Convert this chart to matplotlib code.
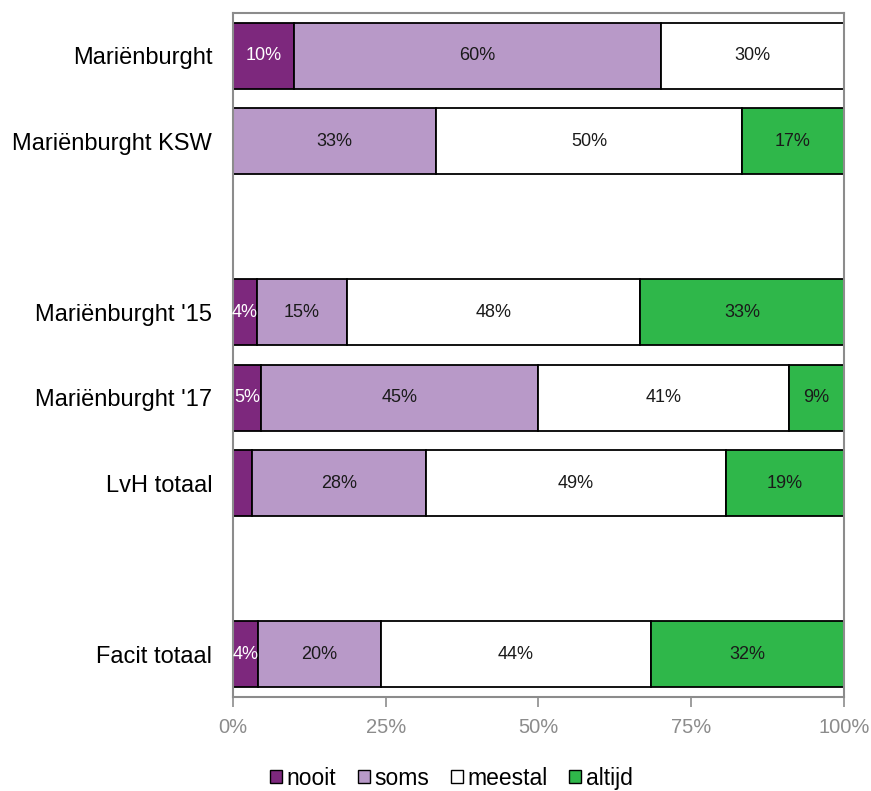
import matplotlib
matplotlib.use("Agg")
import matplotlib.pyplot as plt
from matplotlib.patches import Patch
from matplotlib.ticker import FuncFormatter

plt.rcParams["font.family"] = ["Liberation Sans", "DejaVu Sans"]

# rows from top to bottom; "" = empty spacer row
categories = ["Mariënburght", "Mariënburght KSW", "", "Mariënburght '15",
              "Mariënburght '17", "LvH totaal", "", "Facit totaal"]
series_names = ["nooit", "soms", "meestal", "altijd"]
nooit = [10.0, 0.0, 0.0, 3.9, 4.6, 3.1, 0.0, 4.1]
soms = [60.0, 33.3, 0.0, 14.8, 45.4, 28.5, 0.0, 20.1]
meestal = [30.0, 50.0, 0.0, 47.9, 41.0, 49.1, 0.0, 44.2]
altijd = [0.0, 16.7, 0.0, 33.4, 9.0, 19.3, 0.0, 31.6]

colors = ["#7D287D", "#B899C8", "#FFFFFF", "#2FB74A"]
label_colors = ["white", "#1a1a1a", "#1a1a1a", "#1a1a1a"]
grey = "#8C8C8C"

fig = plt.figure(figsize=(8.71, 7.91), dpi=100)
ax = fig.add_axes([0.2675, 0.1188, 0.7015, 0.8648])

rows = list(range(len(categories)))
left = [0.0] * len(categories)
for name, vals, col, lcol in zip(series_names, [nooit, soms, meestal, altijd], colors, label_colors):
    ax.barh(rows, vals, left=left, height=0.77, color=col, edgecolor="black", linewidth=1.3)
    for r, v, l in zip(rows, vals, left):
        if v >= 3.5:
            ax.text(l + v / 2, r, f"{v:.0f}%", ha="center", va="center", fontsize=13, color=lcol)
    left = [a + b for a, b in zip(left, vals)]

ax.set_xlim(0, 100)
ax.set_ylim(len(categories) - 0.5, -0.5)
ax.set_yticks(rows)
ax.set_yticklabels(categories, fontsize=17)
ax.tick_params(axis="y", length=0, pad=15)
ax.set_xticks([0, 25, 50, 75, 100])
ax.xaxis.set_major_formatter(FuncFormatter(lambda v, p: f"{v:.0f}%"))
ax.tick_params(axis="x", colors=grey, labelsize=14.5, length=7, width=1.2, pad=8)
for s in ax.spines.values():
    s.set_color(grey)
    s.set_linewidth(1.5)

handles = [Patch(facecolor=c, edgecolor="black", linewidth=1.0) for c in colors]
fig.legend(handles, series_names, loc="center", bbox_to_anchor=(0.518, 0.016), ncol=4,
           frameon=False, fontsize=16.5, handlelength=0.52, handleheight=0.52,
           handletextpad=0.2, columnspacing=0.95)

fig.savefig("out.png", dpi=100)
